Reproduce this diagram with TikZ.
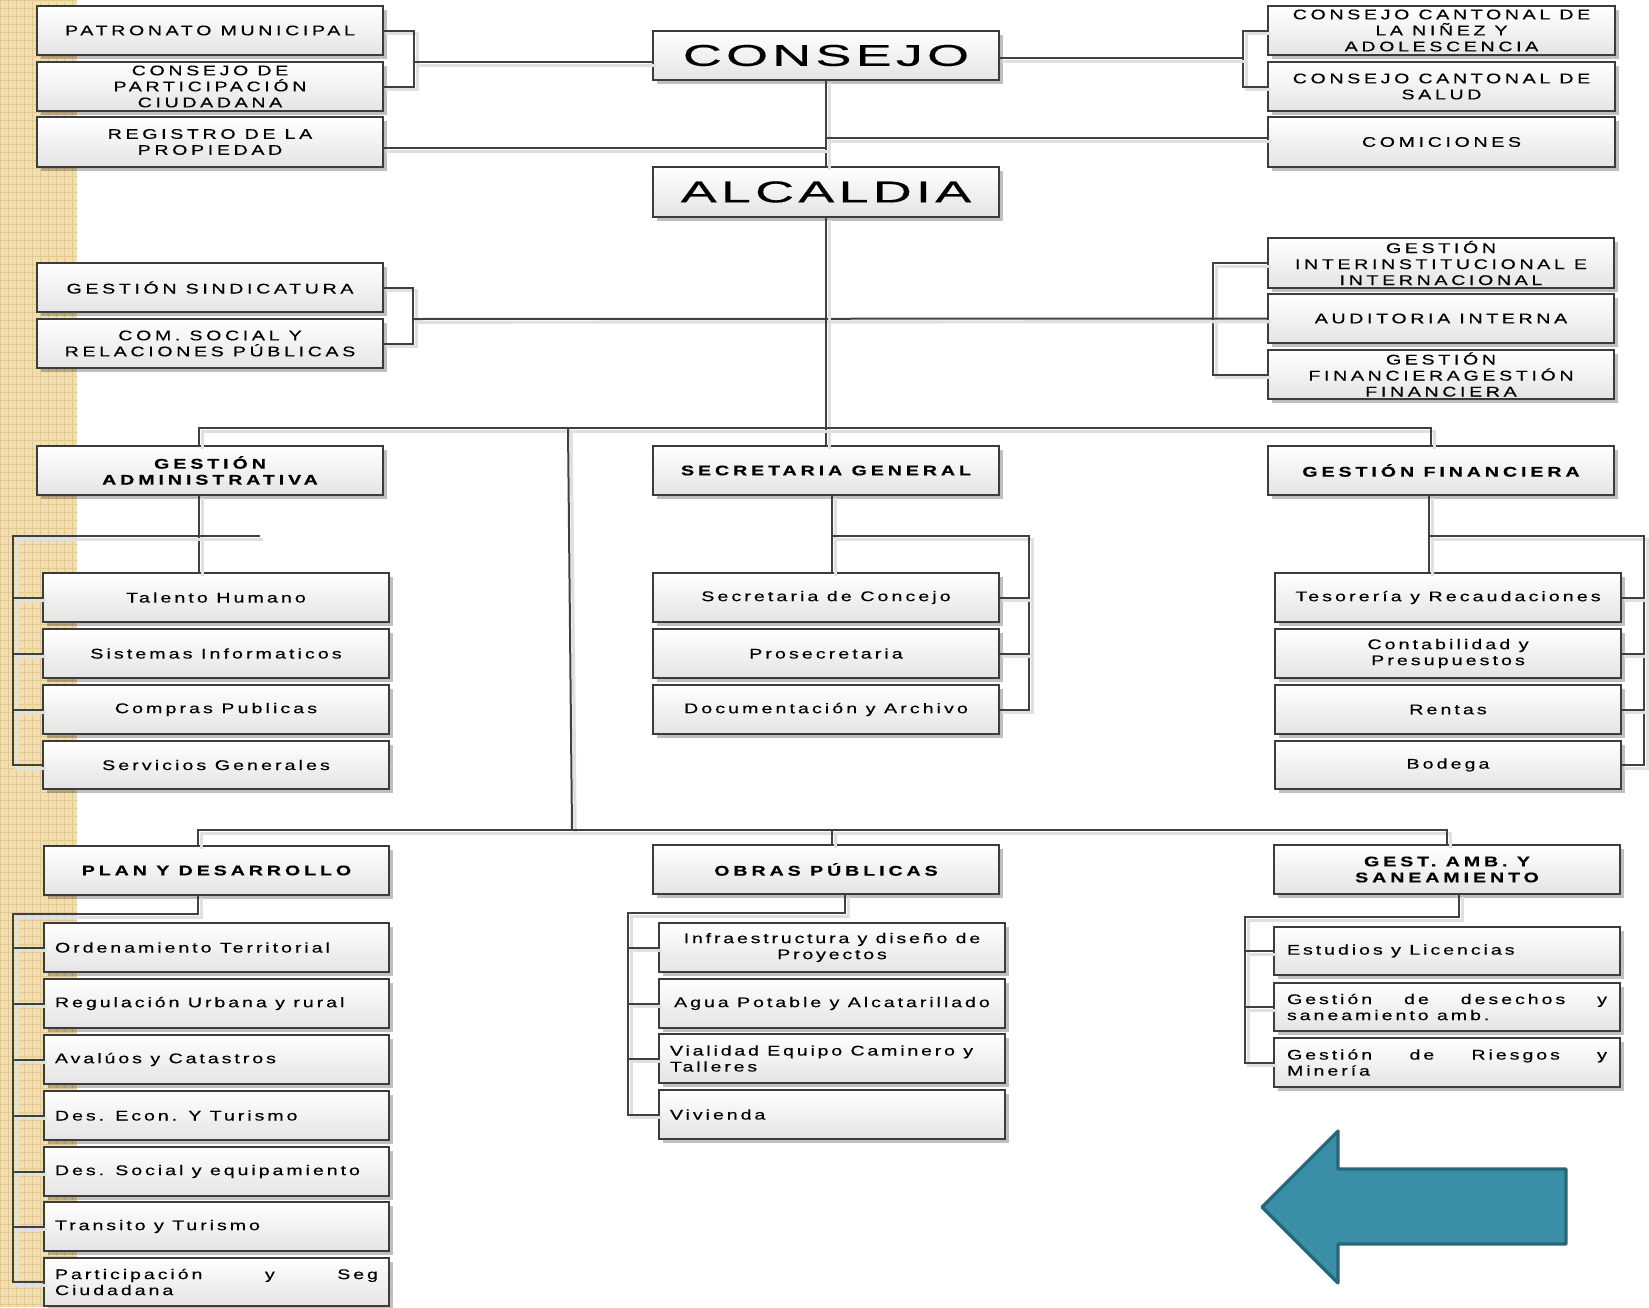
\documentclass[tikz,border=0pt]{standalone}
\usepackage{fontspec}
\setmainfont{Liberation Sans}
\newfontfamily\nfam[FakeStretch=1.4,FakeBold=0.35]{Liberation Sans}
\newfontfamily\bigfam[FakeStretch=1.8,FakeBold=0.5]{Liberation Sans}
\usetikzlibrary{shadows}
\definecolor{bc}{RGB}{60,60,60}
\definecolor{lc}{RGB}{64,64,64}
\definecolor{boxbot}{RGB}{228,228,228}
\definecolor{stripc}{RGB}{242,222,174}
\definecolor{stripl}{RGB}{226,200,146}
\definecolor{arrowf}{RGB}{58,143,166}
\definecolor{arrowd}{RGB}{37,103,120}
\newcommand\lsf[1]{\nfam\fontsize{7}{8}\selectfont\addfontfeatures{LetterSpace=#1}}
\newcommand\lineP[1]{\makebox[161.5pt][l]{#1}}
\newcommand\jlineP[1]{\makebox[161.5pt][s]{#1}}
\newcommand\lineO[1]{\makebox[162pt][l]{#1}}
\newcommand\lineG[1]{\makebox[160pt][l]{#1}}
\newcommand\jlineG[1]{\makebox[160pt][s]{#1}}
\newcommand\obox[7][]{\node[box,minimum width={(#5-#3)*0.5pt},minimum height={(#6-#4)*0.5pt},#1] (#2) at ({(#3+#5)/2},{(#4+#6)/2}) {#7};}
\tikzset{
  box/.style={draw=bc, line width=1.1pt, top color=white, bottom color=boxbot,
    drop shadow={shadow xshift=2pt, shadow yshift=-2pt, opacity=0.25, fill=black},
    inner sep=0pt, outer sep=0pt, align=center, font=\lsf{26}},
  mixed/.style={font=\lsf{22}},
  hdr/.style={font=\nfam\bfseries\lsf{28}},
  big/.style={font=\bigfam\fontsize{15}{18}\selectfont\addfontfeatures{LetterSpace=14}},
  lt/.style={font=\lsf{21}},
  conn/.style={draw=lc, line width=1pt,
    preaction={draw=black!12, line width=1.6pt, transform canvas={shift={(1.6pt,-1.6pt)}}}}
}
\begin{document}
\begin{tikzpicture}[x=0.5pt,y=-0.5pt]
\useasboundingbox (0,0) rectangle (1649,1307);
% left decorative strip
\fill[stripc] (0,0) rectangle (77,1307);
\draw[stripl, line width=0.5pt, step=4pt] (0,1307) grid (77,0);

% top level
\obox{patr}{37}{6}{383}{55}{PATRONATO MUNICIPAL}
\obox{cpart}{37}{62}{383}{111}{CONSEJO DE\\PARTICIPACIÓN\\CIUDADANA}
\obox{reg}{37}{117}{383}{167}{REGISTRO DE LA\\PROPIEDAD}
\obox[big]{consejo}{653}{31}{999}{80}{CONSEJO}
\obox[big]{alcaldia}{653}{167}{999}{217}{ALCALDIA}
\obox{cninez}{1268}{6}{1615}{55}{CONSEJO CANTONAL DE\\LA NIÑEZ Y\\ADOLESCENCIA}
\obox{csalud}{1268}{62}{1615}{111}{CONSEJO CANTONAL DE\\SALUD}
\obox{comic}{1268}{117}{1615}{167}{COMICIONES}
\obox{sind}{37}{263}{383}{312}{GESTIÓN SINDICATURA}
\obox{comsoc}{37}{319}{383}{368}{COM. SOCIAL Y\\RELACIONES PÚBLICAS}
\obox{ginter}{1268}{238}{1614}{288}{GESTIÓN\\INTERINSTITUCIONAL E\\INTERNACIONAL}
\obox{audit}{1268}{294}{1614}{343}{AUDITORIA INTERNA}
\obox{gfin2}{1268}{350}{1614}{399}{GESTIÓN\\FINANCIERAGESTIÓN\\FINANCIERA}

% departments
\obox[hdr]{gadm}{37}{446}{383}{495}{GESTIÓN\\ADMINISTRATIVA}
\obox[hdr]{secgen}{653}{446}{999}{495}{SECRETARIA GENERAL}
\obox[hdr]{gfin}{1268}{446}{1614}{495}{GESTIÓN FINANCIERA}
\obox[hdr]{plan}{44}{846}{389}{895}{PLAN Y DESARROLLO}
\obox[hdr]{obras}{653}{845}{999}{894}{OBRAS PÚBLICAS}
\obox[hdr]{gamb}{1274}{845}{1620}{894}{GEST. AMB. Y\\SANEAMIENTO}

% gestion administrativa
\obox[mixed]{th}{43}{573}{389}{622}{Talento Humano}
\obox[mixed]{si}{43}{629}{389}{678}{Sistemas Informaticos}
\obox[mixed]{cp}{43}{685}{389}{734}{Compras Publicas}
\obox[mixed]{sg}{43}{741}{389}{789}{Servicios Generales}
% secretaria
\obox[mixed]{sc}{653}{573}{999}{622}{Secretaria de Concejo}
\obox[mixed]{pr}{653}{629}{999}{678}{Prosecretaria}
\obox[mixed]{da}{653}{685}{999}{734}{Documentación y Archivo}
% gestion financiera
\obox[mixed]{te}{1275}{573}{1621}{622}{Tesorería y Recaudaciones}
\obox[mixed]{co}{1275}{629}{1621}{678}{Contabilidad y\\Presupuestos}
\obox[mixed]{re}{1275}{685}{1621}{734}{Rentas}
\obox[mixed]{bo}{1275}{741}{1621}{789}{Bodega}
% plan y desarrollo
\obox[lt]{ot}{44}{923}{389}{972}{\lineP{Ordenamiento Territorial}}
\obox[lt]{ru}{44}{979}{389}{1028}{\lineP{Regulación Urbana y rural}}
\obox[lt]{av}{44}{1035}{389}{1084}{\lineP{Avalúos y Catastros}}
\obox[lt]{de}{44}{1091}{389}{1140}{\lineP{Des. Econ. Y Turismo}}
\obox[lt]{ds}{44}{1147}{389}{1196}{\lineP{Des. Social y equipamiento}}
\obox[lt]{tt}{44}{1202}{389}{1251}{\lineP{Transito y Turismo}}
\obox[lt]{ps}{44}{1258}{389}{1306}{\jlineP{Participación\hfill y\hfill Seg}\\\lineP{Ciudadana}}
% obras publicas
\obox[font=\lsf{20}]{inf}{659}{923}{1005}{972}{Infraestructura y diseño de\\Proyectos}
\obox[font=\lsf{21}]{ag}{659}{979}{1005}{1028}{Agua Potable y Alcatarillado}
\obox[font=\lsf{20}]{vi}{659}{1034}{1005}{1083}{\lineO{Vialidad Equipo Caminero y}\\\lineO{Talleres}}
\obox[lt]{vv}{659}{1090}{1005}{1139}{\lineO{Vivienda}}
% gestion ambiental
\obox[lt]{el}{1274}{927}{1620}{975}{\lineG{Estudios y Licencias}}
\obox[lt]{gd}{1274}{983}{1620}{1031}{\jlineG{Gestión\hfill de\hfill desechos\hfill y}\\\lineG{saneamiento amb.}}
\obox[lt]{gr}{1274}{1038}{1620}{1087}{\jlineG{Gestión\hfill de\hfill Riesgos\hfill y}\\\lineG{Minería}}

% ---------- connectors ----------
% top
\coordinate (b1) at (414,62);
\draw[conn] (patr.east) -| (b1) |- (cpart.east);
\draw[conn] (b1) -- (b1 -| consejo.west);
\coordinate (r1) at (1243,58);
\draw[conn] (cninez.west) -| (r1) |- (csalud.west);
\draw[conn] (consejo.east |- r1) -- (r1);
\draw[conn] (consejo.south) -- (alcaldia.north);
\coordinate (c1) at (826,148);
\draw[conn] (reg.east |- c1) -- (c1);
\coordinate (c2) at (826,138);
\draw[conn] (c2) -- (c2 -| comic.west);
% staff level
\coordinate (s1) at (413,319);
\coordinate (s2) at (1213,319);
\draw[conn] (sind.east) -| (s1) |- (comsoc.east);
\draw[conn] (ginter.west) -| (s2) |- (gfin2.west);
\draw[conn] (s1) -- (audit.west);
% department bus
\coordinate (t1) at (199,428);
\coordinate (t2) at (1431,428);
\draw[conn] (alcaldia.south) -- (secgen.north);
\draw[conn] (t1 |- gadm.north) -- (t1) -- (t2) -- (t2 |- gfin.north);
\coordinate (l1) at (568,428);
\coordinate (l2) at (572,830);
\draw[conn] (l1) -- (l2);
\coordinate (u1) at (198,830);
\coordinate (u2) at (1447,830);
\coordinate (u3) at (832,830);
\draw[conn] (u1 |- plan.north) -- (u1) -- (u2) -- (u2 |- gamb.north);
\draw[conn] (u3) -- (u3 |- obras.north);
% gestion administrativa group
\coordinate (a0) at (13,536);
\coordinate (a1) at (199,536);
\coordinate (a2) at (260,536);
\draw[conn] (a1 |- gadm.south) -- (a1 |- th.north);
\draw[conn] (a2) -- (a0) |- (sg.west);
\foreach \n in {th,si,cp} \draw[conn] (\n.west -| a0) -- (\n.west);
% secretaria group
\coordinate (g1) at (832,536);
\coordinate (g2) at (1029,536);
\draw[conn] (g1 |- secgen.south) -- (g1 |- sc.north);
\draw[conn] (g1) -- (g2) |- (da.east);
\foreach \n in {sc,pr} \draw[conn] (\n.east) -- (\n.east -| g2);
% gestion financiera group
\coordinate (f1) at (1429,536);
\coordinate (f2) at (1644,536);
\draw[conn] (f1 |- gfin.south) -- (f1 |- te.north);
\draw[conn] (f1) -- (f2) |- (bo.east);
\foreach \n in {te,co,re} \draw[conn] (\n.east) -- (\n.east -| f2);
% plan group
\coordinate (p0) at (13,914);
\coordinate (p1) at (198,914);
\draw[conn] (p1 |- plan.south) -- (p1) -- (p0) |- (ps.west);
\foreach \n in {ot,ru,av,de,ds,tt} \draw[conn] (\n.west -| p0) -- (\n.west);
% obras group
\coordinate (o0) at (628,913);
\coordinate (o1) at (845,913);
\draw[conn] (o1 |- obras.south) -- (o1) -- (o0) |- (vv.west);
\foreach \n in {inf,ag,vi} \draw[conn] (\n.west -| o0) -- (\n.west);
% gestion ambiental group
\coordinate (e0) at (1245,917);
\coordinate (e1) at (1459,917);
\draw[conn] (e1 |- gamb.south) -- (e1) -- (e0) |- (gr.west);
\foreach \n in {el,gd} \draw[conn] (\n.west -| e0) -- (\n.west);

% back arrow
\draw[fill=arrowf, draw=arrowd, line width=1.6pt, line join=round]
  (1262,1207) -- (1338,1131) -- (1338,1169) -- (1566,1169) -- (1566,1244)
  -- (1338,1244) -- (1338,1283) -- cycle;
\end{tikzpicture}
\end{document}
